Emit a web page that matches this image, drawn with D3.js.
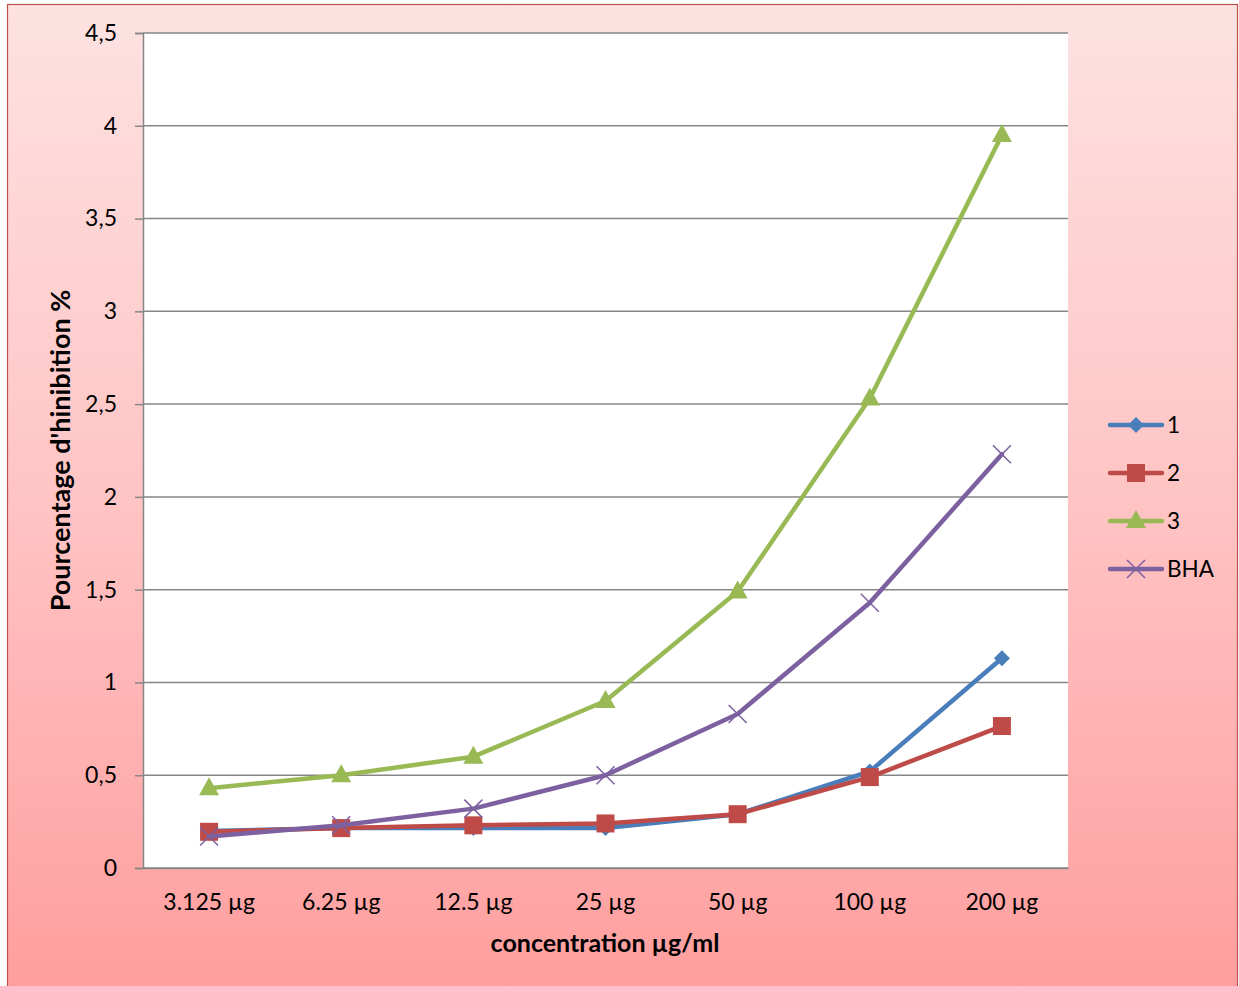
<!DOCTYPE html>
<html>
<head>
<meta charset="utf-8">
<script src="https://cdn.jsdelivr.net/npm/d3@7"></script>
<style>
  html, body { margin: 0; padding: 0; background: #ffffff; }
  svg { display: block; }
  text { font-family: Lato, "Open Sans", "Liberation Sans", sans-serif; fill: #000; }
</style>
</head>
<body>
<svg id="chart" width="1239" height="986"></svg>
<script>
// Concentrations tested and inhibition (%) for each extract and the BHA reference
const categories = ["3.125 µg", "6.25 µg", "12.5 µg", "25 µg", "50 µg", "100 µg", "200 µg"];
const series1 = [0.20, 0.215, 0.215, 0.215, 0.29, 0.52, 1.13];
const series2 = [0.195, 0.215, 0.23, 0.24, 0.29, 0.49, 0.765];
const series3 = [0.43, 0.50, 0.60, 0.90, 1.49, 2.53, 3.95];
const seriesBHA = [0.17, 0.23, 0.32, 0.50, 0.83, 1.43, 2.23];
const seriesNames = ["1", "2", "3", "BHA"];
const yTicks = [0, 0.5, 1, 1.5, 2, 2.5, 3, 3.5, 4, 4.5];

const series = [
  { name: seriesNames[0], values: series1, color: "#4a7ebb", marker: "diamond" },
  { name: seriesNames[1], values: series2, color: "#be4b48", marker: "square" },
  { name: seriesNames[2], values: series3, color: "#98b954", marker: "triangle" },
  { name: seriesNames[3], values: seriesBHA, color: "#7d60a0", marker: "cross" }
];

const svg = d3.select("#chart");
const W = 1239, H = 986;
const plot = { left: 143, right: 1068, top: 33, bottom: 868 };

// Chart background: pink vertical gradient with a dark red frame
const defs = svg.append("defs");
const grad = defs.append("linearGradient").attr("id", "bg").attr("x1", 0).attr("y1", 0).attr("x2", 0).attr("y2", 1);
grad.append("stop").attr("offset", "0%").attr("stop-color", "#fde2e2");
grad.append("stop").attr("offset", "50%").attr("stop-color", "#ffc4c4");
grad.append("stop").attr("offset", "100%").attr("stop-color", "#ff9e9e");

svg.append("rect").attr("x", 0).attr("y", 0).attr("width", W).attr("height", H).attr("fill", "#ffffff");
svg.append("rect").attr("x", 7.5).attr("y", 4.5).attr("width", W - 9).attr("height", H)
  .attr("fill", "url(#bg)").attr("stroke", "#c0504d").attr("stroke-width", 1.2);

// Plot area
svg.append("rect").attr("x", plot.left).attr("y", plot.top)
  .attr("width", plot.right - plot.left).attr("height", plot.bottom - plot.top).attr("fill", "#ffffff");

const x = d3.scaleBand().domain(categories).range([plot.left, plot.right]);
const y = d3.scaleLinear().domain([0, 4.5]).range([plot.bottom, plot.top]);
const cx = c => x(c) + x.bandwidth() / 2;

// Horizontal gridlines
svg.append("g").selectAll("line").data(yTicks).join("line")
  .attr("x1", plot.left).attr("x2", plot.right)
  .attr("y1", d => y(d)).attr("y2", d => y(d))
  .attr("stroke", "#868686").attr("stroke-width", 1.5);

// Y axis
const yAxis = svg.append("g").attr("transform", `translate(${plot.left},0)`)
  .call(d3.axisLeft(y).tickValues(yTicks).tickSize(8).tickPadding(18)
    .tickFormat(d => String(d).replace(".", ",")));
yAxis.select(".domain").attr("stroke", "#868686").attr("stroke-width", 1.5);
yAxis.selectAll(".tick line").attr("stroke", "#868686").attr("stroke-width", 1.5);
yAxis.selectAll(".tick text").attr("font-size", 23).attr("font-family", "Lato, sans-serif").attr("fill", "#000");

// X axis
const xAxis = svg.append("g").attr("transform", `translate(0,${plot.bottom})`)
  .call(d3.axisBottom(x).tickSize(0).tickPadding(26));
xAxis.select(".domain").attr("stroke", "#868686").attr("stroke-width", 1.5);
xAxis.selectAll(".tick text").attr("font-size", 23).attr("font-family", "Lato, sans-serif").attr("fill", "#000");

// Axis titles
svg.append("text").attr("x", 605).attr("y", 952)
  .attr("text-anchor", "middle").attr("font-size", 25).attr("font-weight", "bold")
  .text("concentration µg/ml");
svg.append("text").attr("transform", `translate(70,${(plot.top + plot.bottom) / 2}) rotate(-90)`)
  .attr("text-anchor", "middle").attr("font-size", 27).attr("font-weight", "bold")
  .text("Pourcentage d'hinibition %");

// Marker drawing
function drawMarker(g, type, color) {
  if (type === "diamond") {
    g.append("path").attr("d", "M0,-8L8,0L0,8L-8,0Z").attr("fill", color);
  } else if (type === "square") {
    g.append("rect").attr("x", -9).attr("y", -9).attr("width", 18).attr("height", 18).attr("fill", color);
  } else if (type === "triangle") {
    g.append("path").attr("d", "M0,-11L10,7L-10,7Z").attr("fill", color);
  } else {
    g.append("path").attr("d", "M-9,-9L9,9M-9,9L9,-9").attr("stroke", color).attr("stroke-width", 1.5).attr("fill", "none");
  }
}

const line = d3.line().x((d, i) => cx(categories[i])).y(d => y(d));

series.forEach(s => {
  svg.append("path").datum(s.values).attr("d", line)
    .attr("fill", "none").attr("stroke", s.color).attr("stroke-width", 4.5)
    .attr("stroke-linejoin", "round").attr("stroke-linecap", "round");
  s.values.forEach((v, i) => {
    const g = svg.append("g").attr("transform", `translate(${cx(categories[i])},${y(v)})`);
    drawMarker(g, s.marker, s.color);
  });
});

// Legend
const legend = svg.append("g");
series.forEach((s, i) => {
  const ly = 425 + i * 48;
  legend.append("line").attr("x1", 1110).attr("x2", 1162).attr("y1", ly).attr("y2", ly)
    .attr("stroke", s.color).attr("stroke-width", 4.5).attr("stroke-linecap", "round");
  const g = legend.append("g").attr("transform", `translate(1136,${ly})`);
  drawMarker(g, s.marker, s.color);
  legend.append("text").attr("x", 1167).attr("y", ly + 8).attr("font-size", 22.5).text(s.name);
});
</script>
</body>
</html>
